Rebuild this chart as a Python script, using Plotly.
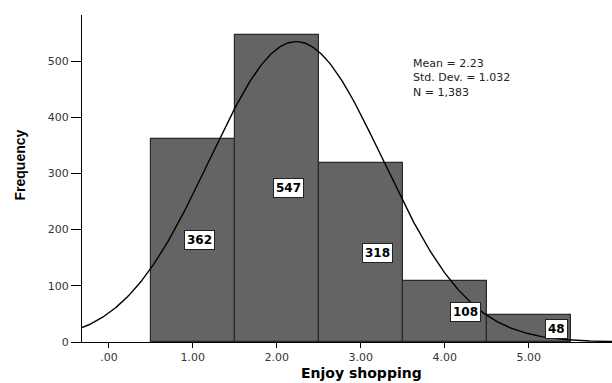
import numpy as np
import plotly.graph_objects as go

categories = [1, 2, 3, 4, 5]
counts = [362, 547, 318, 108, 48]
label_offsets = [0.08, 0.14, 0.20, 0.25, 0.33]
mean, sd, n = 2.23, 1.032, 1383
x_ticks = [0, 1, 2, 3, 4, 5]
x_tick_text = [".00", "1.00", "2.00", "3.00", "4.00", "5.00"]
y_ticks = [0, 100, 200, 300, 400, 500]
stats = ["Mean = 2.23", "Std. Dev. = 1.032", "N = 1,383"]

FONT = "DejaVu Sans, Liberation Sans, Arial"

fig = go.Figure()
fig.add_trace(go.Bar(x=categories, y=counts, width=1,
                     marker=dict(color="#646464", line=dict(color="#2a2a2a", width=1.2)),
                     hoverinfo="skip"))
xs = np.linspace(-0.4, 6.1, 400)
ys = n * 1.0 / (sd * np.sqrt(2 * np.pi)) * np.exp(-0.5 * ((xs - mean) / sd) ** 2)
fig.add_trace(go.Scatter(x=xs, y=ys, mode="lines", line=dict(color="black", width=1.4),
                         hoverinfo="skip"))

for c, v, o in zip(categories, counts, label_offsets):
    fig.add_annotation(x=c + o, y=v / 2, text="<b>%d</b>" % v, showarrow=False,
                       bgcolor="white", bordercolor="#222", borderwidth=1, borderpad=2,
                       font=dict(family=FONT, size=12, color="black"))

fig.add_annotation(x=3.61, y=470, xref="x", yref="y", text="<br>".join(stats), showarrow=False,
                   xanchor="left", yanchor="middle", align="left", borderpad=0,
                   font=dict(family=FONT, size=11, color="#222"))

fig.add_annotation(x=3.01, xref="x", y=-0.095, yref="paper", text="<b>Enjoy shopping</b>",
                   showarrow=False, yanchor="middle",
                   font=dict(family=FONT, size=14, color="black"))
fig.add_annotation(x=-0.135, xref="paper", y=315, yref="y", text="<b>Frequency</b>",
                   showarrow=False, textangle=-90,
                   font=dict(family="Liberation Sans Narrow, Liberation Sans, Arial", size=14, color="black"))

fig.update_layout(
    width=612, height=383, margin=dict(l=82, r=0, t=15, b=41),
    paper_bgcolor="white", plot_bgcolor="white", showlegend=False, bargap=0,
    xaxis=dict(range=[-0.32, 5.99], tickvals=x_ticks, ticktext=x_tick_text,
               showgrid=False, zeroline=False, showline=True, linecolor="black", linewidth=1.2,
               ticks="outside", ticklen=5, tickcolor="black",
               tickfont=dict(family=FONT, size=11, color="#333")),
    yaxis=dict(range=[0, 582], tickvals=y_ticks, showgrid=False, zeroline=False,
               showline=True, linecolor="black", linewidth=1.2,
               ticks="outside", ticklen=10, tickcolor="black",
               tickfont=dict(family=FONT, size=11, color="#333")),
)
fig.write_html("out.html")
